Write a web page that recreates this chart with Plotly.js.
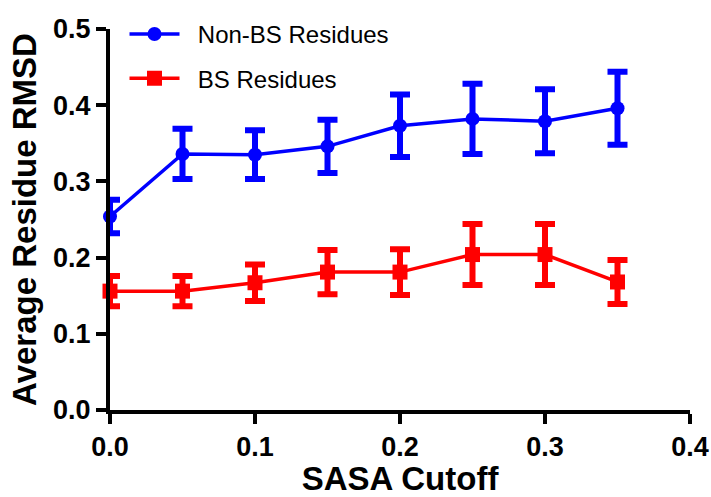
<!DOCTYPE html>
<html>
<head>
<meta charset="utf-8">
<script src="https://cdn.plot.ly/plotly-3.0.1.min.js"></script>
<style>html,body{margin:0;padding:0;background:#fff;}#chart{width:711px;height:497px;}</style>
</head>
<body>
<div id="chart"></div>
<script>
var sasaCutoff = [0, 0.05, 0.1, 0.15, 0.2, 0.25, 0.3, 0.35];
var nonBSMean = [0.254, 0.336, 0.335, 0.346, 0.373, 0.382, 0.379, 0.396];
var nonBSErr  = [0.022, 0.033, 0.032, 0.035, 0.041, 0.046, 0.042, 0.048];
var bsMean    = [0.156, 0.156, 0.167, 0.181, 0.181, 0.204, 0.204, 0.168];
var bsErr     = [0.020, 0.020, 0.024, 0.029, 0.030, 0.040, 0.040, 0.029];
var seriesNames = ["Non-BS Residues", "BS Residues"];
var xTicks = [0, 0.1, 0.2, 0.3, 0.4];
var yTicks = [0, 0.1, 0.2, 0.3, 0.4, 0.5];

var FONT = "Arial, 'Liberation Sans', sans-serif";
var GAP = "\u00a0\u00a0";

var traces = [
  {
    x: sasaCutoff, y: nonBSMean, name: GAP + seriesNames[0], type: "scatter", mode: "lines+markers",
    legendgroup: "a", cliponaxis: false,
    line: {color: "#0000FF", width: 3.5},
    marker: {symbol: "circle", size: 14, color: "#0000FF"},
    error_y: {type: "data", array: nonBSErr, visible: true, color: "#0000FF", thickness: 6, width: 10}
  },
  {
    x: sasaCutoff, y: bsMean, name: GAP + seriesNames[1], type: "scatter", mode: "lines+markers",
    legendgroup: "b", cliponaxis: false,
    line: {color: "#FF0000", width: 3.5},
    marker: {symbol: "square", size: 15, color: "#FF0000"},
    error_y: {type: "data", array: bsErr, visible: true, color: "#FF0000", thickness: 6, width: 10}
  }
];

var layout = {
  width: 711, height: 497,
  margin: {l: 110, r: 21, t: 25, b: 87, pad: 0},
  paper_bgcolor: "#ffffff", plot_bgcolor: "#ffffff",
  font: {family: FONT, color: "#000"},
  showlegend: true,
  legend: {
    x: 0.025, y: 1.045, xanchor: "left", yanchor: "top",
    font: {family: FONT, size: 24, color: "#000"},
    bgcolor: "rgba(0,0,0,0)", tracegroupgap: 10, itemwidth: 50
  },
  xaxis: {
    range: [0, 0.4], tickvals: xTicks, tickformat: ".1f",
    showline: true, linecolor: "#000", linewidth: 4, mirror: false,
    showgrid: false, zeroline: false,
    ticks: "outside", ticklen: 10, tickwidth: 4, tickcolor: "#000",
    tickfont: {family: FONT, size: 27, weight: "bold", color: "#000"},
    title: {text: "SASA Cutoff", font: {family: FONT, size: 33, weight: "bold", color: "#000"}, standoff: 12},
    fixedrange: true
  },
  yaxis: {
    range: [0, 0.5], tickvals: yTicks, tickformat: ".1f",
    showline: true, linecolor: "#000", linewidth: 4, mirror: false,
    showgrid: false, zeroline: false,
    ticks: "outside", ticklen: 10, tickwidth: 4, tickcolor: "#000",
    tickfont: {family: FONT, size: 27, weight: "bold", color: "#000"},
    title: {text: "Average Residue RMSD", font: {family: FONT, size: 33, weight: "bold", color: "#000"}, standoff: 8},
    fixedrange: true
  }
};

Plotly.newPlot("chart", traces, layout, {displayModeBar: false, staticPlot: true});
</script>
</body>
</html>
